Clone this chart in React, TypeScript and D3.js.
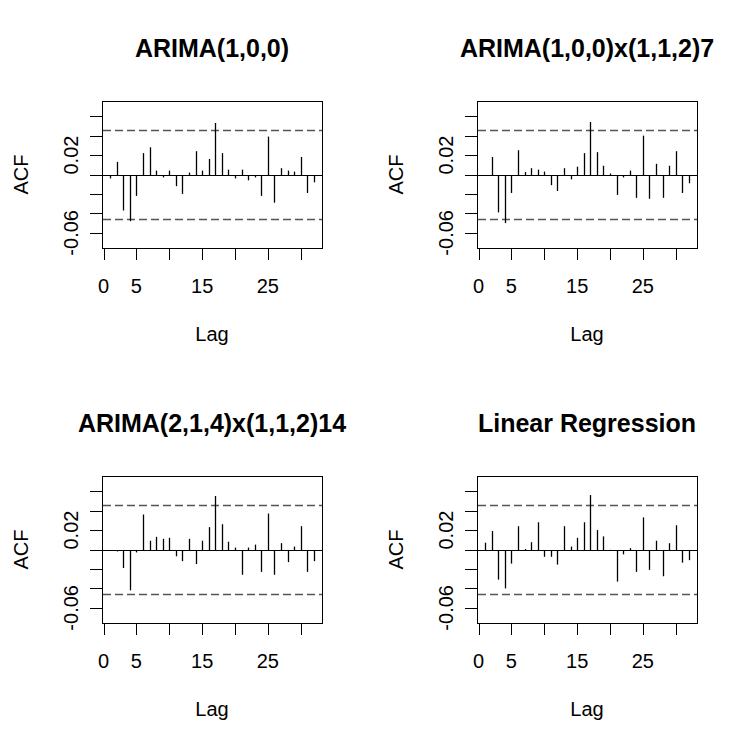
import React from "react";
import * as d3 from "d3";

const titles = [
  "ARIMA(1,0,0)",
  "ARIMA(1,0,0)x(1,1,2)7",
  "ARIMA(2,1,4)x(1,1,2)14",
  "Linear Regression",
];

const lags = d3.range(1, 33);

const acfArima100 = [
  -0.004, 0.013, -0.037, -0.048, -0.022, 0.022, 0.028, 0.004, -0.003, 0.004,
  -0.012, -0.02, 0.002, 0.024, 0.004, 0.016, 0.053, 0.022, 0.005, -0.004,
  0.005, -0.006, -0.003, -0.022, 0.039, -0.029, 0.0065, 0.004, 0.003, 0.018,
  -0.019, -0.008,
];

const acfSeasonal7 = [
  -0.001, 0.018, -0.039, -0.05, -0.019, 0.025, 0.0025, 0.0065, 0.005, 0.003,
  -0.011, -0.017, 0.0065, -0.005, 0.008, 0.022, 0.054, 0.023, 0.009, 0.001,
  -0.021, -0.003, 0.004, -0.024, 0.04, -0.025, 0.011, -0.024, 0.009, 0.024,
  -0.019, -0.009,
];

const acfSeasonal14 = [
  -0.0005, -0.002, -0.019, -0.042, -0.003, 0.036, 0.009, 0.013, 0.011, 0.012,
  -0.007, -0.012, 0.011, -0.015, 0.009, 0.023, 0.055, 0.026, 0.008, 0.002,
  -0.026, 0.002, 0.005, -0.023, 0.037, -0.026, 0.0065, -0.013, 0.003, 0.024,
  -0.023, -0.012,
];

const acfLinReg = [
  0.007, 0.019, -0.031, -0.04, -0.0145, 0.024, 0.0005, 0.0075, 0.028, -0.0075,
  -0.0075, -0.0155, 0.024, 0.003, 0.012, 0.028, 0.056, 0.02, 0.0135, -0.0003,
  -0.033, -0.005, 0.0014, -0.023, 0.033, -0.021, 0.009, -0.0275, 0.0065, 0.025,
  -0.0135, -0.011,
];

const seriesList = [acfArima100, acfSeasonal7, acfSeasonal14, acfLinReg];

const ciLimit = 0.046;
const xTicks = [0, 5, 10, 15, 20, 25, 30];
const xTickLabels = ["0", "5", "", "15", "", "25", ""];
const yTicks = [-0.06, -0.04, -0.02, 0, 0.02, 0.04, 0.06];
const yTickLabels = ["-0.06", "", "", "", "0.02", "", ""];

const FONT = "'Liberation Sans', Arial, Helvetica, sans-serif";

function Panel({ ox, oy, title, values }: { ox: number; oy: number; title: string; values: number[] }) {
  const left = 102, right = 322, top = 101, bottom = 248;
  const x = d3.scaleLinear().domain([-0.24, 33.24]).range([left, right]);
  const y = d3.scaleLinear().domain([-0.0756, 0.0756]).range([bottom, top]);
  const cx = (left + right) / 2;
  const cy = (top + bottom) / 2;
  const px = (v: number) => Math.round(v) + 0.5;
  return (
    <g transform={`translate(${ox},${oy})`}>
      <text x={cx} y={57} textAnchor="middle" fontWeight="bold" fontSize={25} fontFamily={FONT}>
        {title}
      </text>
      <rect x={left + 0.5} y={top + 0.5} width={right - left} height={bottom - top} fill="none" stroke="#000" strokeWidth={1} />
      {/* zero line */}
      <line x1={left} x2={right} y1={px(y(0))} y2={px(y(0))} stroke="#000" strokeWidth={1} />
      {/* confidence lines */}
      {[ciLimit, -ciLimit].map((c, i) => (
        <line key={i} x1={left + 1} x2={right} y1={px(y(c))} y2={px(y(c))} stroke="#555" strokeWidth={1.3} strokeDasharray="8,4" />
      ))}
      {/* bars */}
      {lags.map((lag, i) => (
        <line key={lag} x1={px(x(lag))} x2={px(x(lag))} y1={px(y(0))} y2={y(values[i])} stroke="#000" strokeWidth={1.3} />
      ))}
      {/* x axis */}
      {xTicks.map((t, i) => (
        <g key={t}>
          <line x1={px(x(t))} x2={px(x(t))} y1={bottom} y2={bottom + 12} stroke="#000" strokeWidth={1} />
          {xTickLabels[i] && (
            <text x={x(t)} y={293} textAnchor="middle" fontSize={20} fontFamily={FONT}>
              {xTickLabels[i]}
            </text>
          )}
        </g>
      ))}
      <line x1={px(x(0))} x2={px(x(30))} y1={bottom + 0.5} y2={bottom + 0.5} stroke="#000" strokeWidth={1} />
      {/* y axis */}
      {yTicks.map((t, i) => (
        <g key={t}>
          <line x1={left - 12} x2={left} y1={px(y(t))} y2={px(y(t))} stroke="#000" strokeWidth={1} />
          {yTickLabels[i] && (
            <text transform={`translate(78,${y(t)}) rotate(-90)`} textAnchor="middle" fontSize={20} fontFamily={FONT}>
              {yTickLabels[i]}
            </text>
          )}
        </g>
      ))}
      <line x1={left + 0.5} x2={left + 0.5} y1={y(-0.06)} y2={y(0.06)} stroke="#000" strokeWidth={1} />
      <text x={cx} y={341} textAnchor="middle" fontSize={20} fontFamily={FONT}>
        Lag
      </text>
      <text transform={`translate(28,${cy}) rotate(-90)`} textAnchor="middle" fontSize={20} fontFamily={FONT}>
        ACF
      </text>
    </g>
  );
}

export default function App() {
  return (
    <svg width={750} height={750} style={{ position: "absolute", left: 0, top: 0, background: "#fff" }}>
      <rect x={0} y={0} width={750} height={750} fill="#fff" />
      {seriesList.map((vals, i) => (
        <Panel key={i} ox={(i % 2) * 375} oy={Math.floor(i / 2) * 375} title={titles[i]} values={vals} />
      ))}
    </svg>
  );
}
